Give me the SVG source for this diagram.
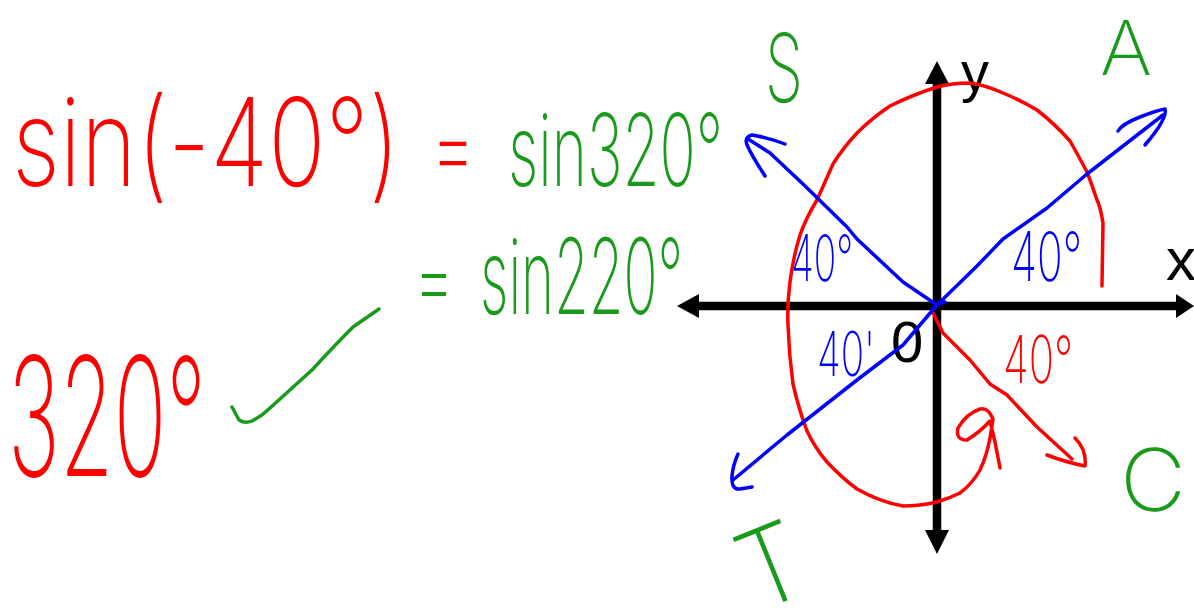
<svg xmlns="http://www.w3.org/2000/svg" width="1194" height="614" viewBox="0 0 1194 614">
<style>
.hw{fill:none;stroke-width:3.5;stroke-linecap:round;stroke-linejoin:round}
.r{stroke:#ff0000}.b{stroke:#0000ff}.g{stroke:#1a9a1a}
.t{font-family:"Inter","DejaVu Sans","Liberation Sans",sans-serif;font-weight:200}
.tr{fill:#ff0000}.tb{fill:#0000ff}.tg{fill:#1a9a1a}.tk{fill:#000;font-family:"Liberation Sans","DejaVu Sans",sans-serif;font-weight:400}
.ax{stroke:#000;stroke-width:8.5}
</style>
<rect width="1194" height="614" fill="#fff"/>
<g id="equations">
<text class="t tr" x="12" y="186" font-size="122" textLength="388" lengthAdjust="spacingAndGlyphs">sin(-40°)</text>
<text class="t tr" x="430" y="182" font-size="100" textLength="46" lengthAdjust="spacingAndGlyphs">=</text>
<text class="t tg" x="508" y="186" font-size="100" textLength="215" lengthAdjust="spacingAndGlyphs">sin320°</text>
<text class="t tg" x="413" y="312" font-size="95" textLength="42" lengthAdjust="spacingAndGlyphs">=</text>
<text class="t tg" x="480" y="314" font-size="105" textLength="203" lengthAdjust="spacingAndGlyphs">sin220°</text>
<text class="t tr" x="8" y="476" font-size="165" textLength="198" lengthAdjust="spacingAndGlyphs">320°</text>
<path class="hw g" d="M232 407 L239 420 Q245 424 252 421 Q262 416 270 408 L312 370 Q335 345 353 327 L379 309"/>
</g>
<g id="axes">
<line class="ax" x1="937" y1="78" x2="937" y2="536"/>
<line class="ax" x1="694" y1="306" x2="1180" y2="306"/>
<polygon points="937,61 925,84 949,84" fill="#000"/>
<polygon points="937,554 925,530 949,530" fill="#000"/>
<polygon points="677,306 699,294 699,318" fill="#000"/>
<polygon points="1194,306 1176,294 1176,318" fill="#000"/>
<text class="tk" x="961" y="91" font-size="56">y</text>
<text class="tk" x="1166" y="280" font-size="60">x</text>
<text class="tk" x="891" y="362" font-size="58">0</text>
</g>
<g id="rotation-curve">
<path class="hw r" d="M1102 286 L1103 223 Q1100 205 1097 200 Q1092 185 1087 172 Q1078 155 1070 141 Q1055 124 1037 110 Q1020 100 1003 93 Q985 85 970 83 Q952 83 937 87 Q912 95 890 106 Q872 118 857 133 Q843 148 833 164 Q825 182 817 200 Q806 218 800 235 Q793 258 790 282 Q787 305 788 325 Q789 355 793 384 Q799 410 807 431 Q815 448 827 462 Q842 478 857 489 Q880 502 903 506 Q920 506 937 502 Q950 498 960 493 Q972 484 980 470 Q987 455 990 438 L993 419 Q988 407 980 409 Q966 414 958 428 Q955 440 967 440 Q980 432 990 421 L995 442 L1000 468"/>
<path class="hw r" d="M933 313 L943 333 L970 360 L990 384 L1007 395 L1037 427 L1072 459 M1047 455 Q1065 462 1085 466 Q1087 450 1075 438"/>
<text class="t tr" x="1003" y="383" font-size="66" textLength="70" lengthAdjust="spacingAndGlyphs">40°</text>
</g>
<g id="reference-lines">
<path class="hw b" d="M733 480 L787 435 L857 380 L903 345 L937 305 L977 266 L1003 239 L1047 208 L1087 174 L1163 115"/>
<path class="hw b" d="M1118 131 Q1122 124 1140 117 Q1158 110 1165 109 Q1168 118 1145 145"/>
<path class="hw b" d="M738 454 Q733 465 732 476 Q731 490 740 489 L752 487"/>
<path class="hw b" d="M937 305 L903 282 L857 239 L847 227 L803 184 L770 153 L748 139"/>
<path class="hw b" d="M765 176 Q752 156 747 145 Q744 137 752 135 Q770 138 785 144"/>
<path class="hw b" d="M932 310 Q938 303 945 302"/>
<text class="t tb" x="791" y="281" font-size="64" textLength="62" lengthAdjust="spacingAndGlyphs">40°</text>
<text class="t tb" x="1011" y="281" font-size="68" textLength="71" lengthAdjust="spacingAndGlyphs">40°</text>
<text class="t tb" x="817" y="376" font-size="62" textLength="58" lengthAdjust="spacingAndGlyphs">40'</text>
</g>
<g id="quadrant-labels">
<text class="t tg" x="765" y="102" font-size="95" textLength="38" lengthAdjust="spacingAndGlyphs">S</text>
<text class="t tg" x="1100" y="75" font-size="76" textLength="52" lengthAdjust="spacingAndGlyphs">A</text>
<text class="t tg" x="1120" y="511" font-size="86" textLength="66" lengthAdjust="spacingAndGlyphs">C</text>
<text class="t tg" x="738" y="604" font-size="108" textLength="62" lengthAdjust="spacingAndGlyphs" transform="rotate(-22 770 560)">T</text>
</g>
</svg>
